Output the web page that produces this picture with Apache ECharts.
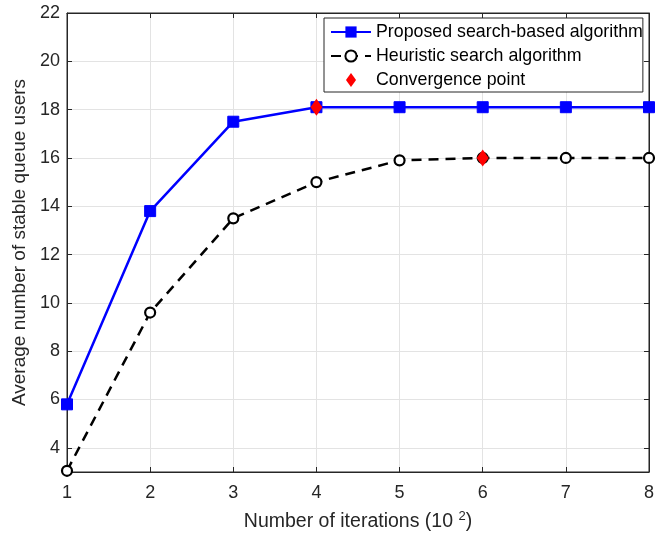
<!DOCTYPE html>
<html>
<head>
<meta charset="utf-8">
<script src="https://cdn.jsdelivr.net/npm/echarts@6/dist/echarts.min.js"></script>
<style>html,body{margin:0;padding:0;background:#fff;}#c{width:657px;height:539px;}</style>
</head>
<body>
<div id="c"></div>
<script>
const iterations = [1, 2, 3, 4, 5, 6, 7, 8];
const proposed = [5.8, 13.8, 17.5, 18.1, 18.1, 18.1, 18.1, 18.1];
const heuristic = [3.05, 9.6, 13.5, 15.0, 15.9, 16.0, 16.0, 16.0];
const convergenceX = [4, 6];
const convergenceY = [18.1, 16.0];
const yTicks = [4, 6, 8, 10, 12, 14, 16, 18, 20, 22];
const seriesNames = ['Proposed search-based algorithm', 'Heuristic search algorithm', 'Convergence point'];

const FONT = 'Liberation Sans, Arial, Helvetica, sans-serif';
const AX = '#262626';
const chart = echarts.init(document.getElementById('c'), null, {renderer: 'canvas'});
const pair = (xs, ys) => xs.map((x, i) => [x, ys[i]]);

chart.setOption({
  animation: false,
  backgroundColor: '#fff',
  textStyle: {fontFamily: FONT},
  grid: {left: 67, right: 5, top: 13, bottom: 65, show: true, borderColor: AX, borderWidth: 1, backgroundColor: 'transparent'},
  legend: {
    left: 324, top: 18, orient: 'vertical',
    data: [
      {name: seriesNames[0]},
      {name: seriesNames[1]},
      {name: seriesNames[2], icon: 'path://M0,-9L6.5,0L0,9L-6.5,0Z'}
    ],
    symbolKeepAspect: true,
    backgroundColor: '#fff', borderColor: AX, borderWidth: 1,
    padding: [5, 0, 3, 6], itemGap: 6, itemWidth: 40, itemHeight: 14,
    textStyle: {fontFamily: FONT, fontSize: 17.8, color: '#000', lineHeight: 18}
  },
  xAxis: [{
    type: 'value', min: 1, max: 8, interval: 1, position: 'bottom',
    name: 'Number of iterations (10 {s|2})', nameLocation: 'middle', nameGap: 38,
    nameTextStyle: {fontFamily: FONT, fontSize: 19.5, color: AX, lineHeight: 24, verticalAlign: 'top',
      rich: {s: {fontSize: 13, lineHeight: 22, verticalAlign: 'top', fontFamily: FONT, color: AX}}},
    axisLine: {show: true, lineStyle: {color: AX, width: 1}},
    axisTick: {show: true, inside: true, length: 5, lineStyle: {color: AX}},
    axisLabel: {fontFamily: FONT, fontSize: 18, color: AX, margin: 12},
    splitLine: {show: true, lineStyle: {color: '#e3e3e3', width: 1}}
  }, {
    type: 'value', min: 1, max: 8, interval: 1, position: 'top',
    axisLine: {show: true, lineStyle: {color: AX, width: 1}},
    axisTick: {show: true, inside: true, length: 5, lineStyle: {color: AX}},
    axisLabel: {show: false}, splitLine: {show: false}
  }],
  yAxis: [{
    type: 'value', min: 3, max: 22, position: 'left',
    name: 'Average number of stable queue users', nameLocation: 'middle', nameGap: 35,
    nameTextStyle: {fontFamily: FONT, fontSize: 19, color: AX},
    axisLine: {show: true, lineStyle: {color: AX, width: 1}},
    axisTick: {show: true, inside: true, length: 5, lineStyle: {color: AX}, customValues: yTicks},
    axisLabel: {fontFamily: FONT, fontSize: 18, color: AX, margin: 7, customValues: yTicks},
    splitLine: {show: true, lineStyle: {color: '#e3e3e3', width: 1}}
  }, {
    type: 'value', min: 3, max: 22, position: 'right',
    axisLine: {show: true, lineStyle: {color: AX, width: 1}},
    axisTick: {show: true, inside: true, length: 5, lineStyle: {color: AX}, customValues: yTicks},
    axisLabel: {show: false, customValues: yTicks}, splitLine: {show: false}
  }],
  series: [{
    name: seriesNames[0], type: 'line', data: pair(iterations, proposed),
    xAxisIndex: 0, yAxisIndex: 0, clip: false,
    symbol: 'rect', symbolSize: 11, showAllSymbol: true,
    lineStyle: {color: '#0000ff', width: 2.5},
    itemStyle: {color: '#0000ff', borderColor: '#0000ff'},
    z: 3
  }, {
    name: seriesNames[1], type: 'line', data: pair(iterations, heuristic),
    xAxisIndex: 0, yAxisIndex: 0, clip: false,
    symbol: 'circle', symbolSize: 10, showAllSymbol: true,
    lineStyle: {color: '#000', width: 2.5, type: [10, 7]},
    itemStyle: {color: '#fff', borderColor: '#000', borderWidth: 2.2},
    z: 3
  }, {
    name: seriesNames[2], type: 'scatter', data: pair(convergenceX, convergenceY),
    xAxisIndex: 0, yAxisIndex: 0, clip: false,
    symbol: 'diamond', symbolSize: [12, 17],
    itemStyle: {color: '#ff0000', opacity: 1},
    zlevel: 1, z: 10
  }]
});
</script>
</body>
</html>
